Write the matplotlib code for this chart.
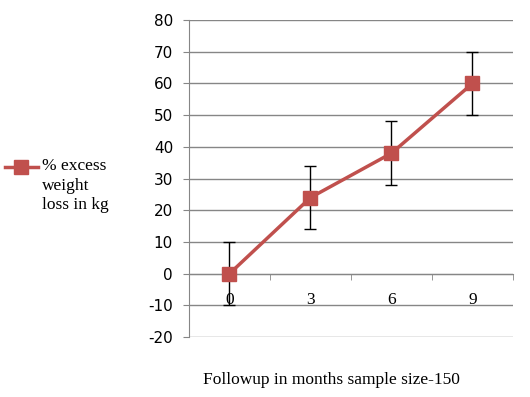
import matplotlib.pyplot as plt
from matplotlib.lines import Line2D
import numpy as np

plt.rcParams['axes.unicode_minus'] = False

# data
months = ['0', '3', '6', '9']
loss = [0, 24, 38, 60]
err = [10, 10, 10, 10]
series_name = '% excess\nweight\nloss in kg'

red = '#C0504D'
grid = '#868686'
serif = 'Liberation Serif'

fig = plt.figure(figsize=(5.3, 3.97), dpi=100)
ax = fig.add_axes([0.3566, 0.151, 0.6113, 0.7985])

x = np.arange(len(months))
ax.errorbar(x, loss, yerr=err, color=red, lw=2.5, marker='s', ms=10,
            ecolor='black', elinewidth=1, capsize=4.5, capthick=1, zorder=3)

ax.set_xlim(-0.5, 3.5)
ax.set_ylim(-20, 80)
ax.set_yticks(np.arange(-20, 81, 10))
ax.yaxis.grid(True, color=grid, lw=1)
ax.set_axisbelow(True)

for s in ['top', 'right']:
    ax.spines[s].set_visible(False)
ax.spines['left'].set_color(grid)
ax.spines['bottom'].set_color(grid)
ax.spines['bottom'].set_position(('data', 0))

ax.set_xticks(x)
ax.set_xticklabels(months, family=serif, fontsize=12.5)
ax.set_xticks(x + 0.5, minor=True)
ax.tick_params(axis='x', which='major', length=0, pad=13)
ax.tick_params(axis='x', which='minor', length=4.5, color=grid, direction='out')
ax.tick_params(axis='y', length=4.5, color=grid, pad=7, labelsize=11)
for t in ax.get_yticklabels():
    t.set_family('DejaVu Sans')

fig.text(331 / 530, 1 - 380 / 397, 'Followup in months sample size-150',
         family=serif, fontsize=12.5, ha='center', va='center')

# legend drawn by hand so the line spacing matches
ly = 1 - 167 / 397
fig.add_artist(Line2D([5 / 530, 38 / 530], [ly, ly], color=red, lw=2.5,
                      transform=fig.transFigure))
fig.add_artist(Line2D([21 / 530], [ly], color=red, marker='s', ms=10,
                      transform=fig.transFigure))
fig.text(42 / 530, 1 - 158 / 397, series_name, family=serif, fontsize=12.5,
         va='top', ha='left', linespacing=1.3)

fig.savefig('out.png', dpi=100)
